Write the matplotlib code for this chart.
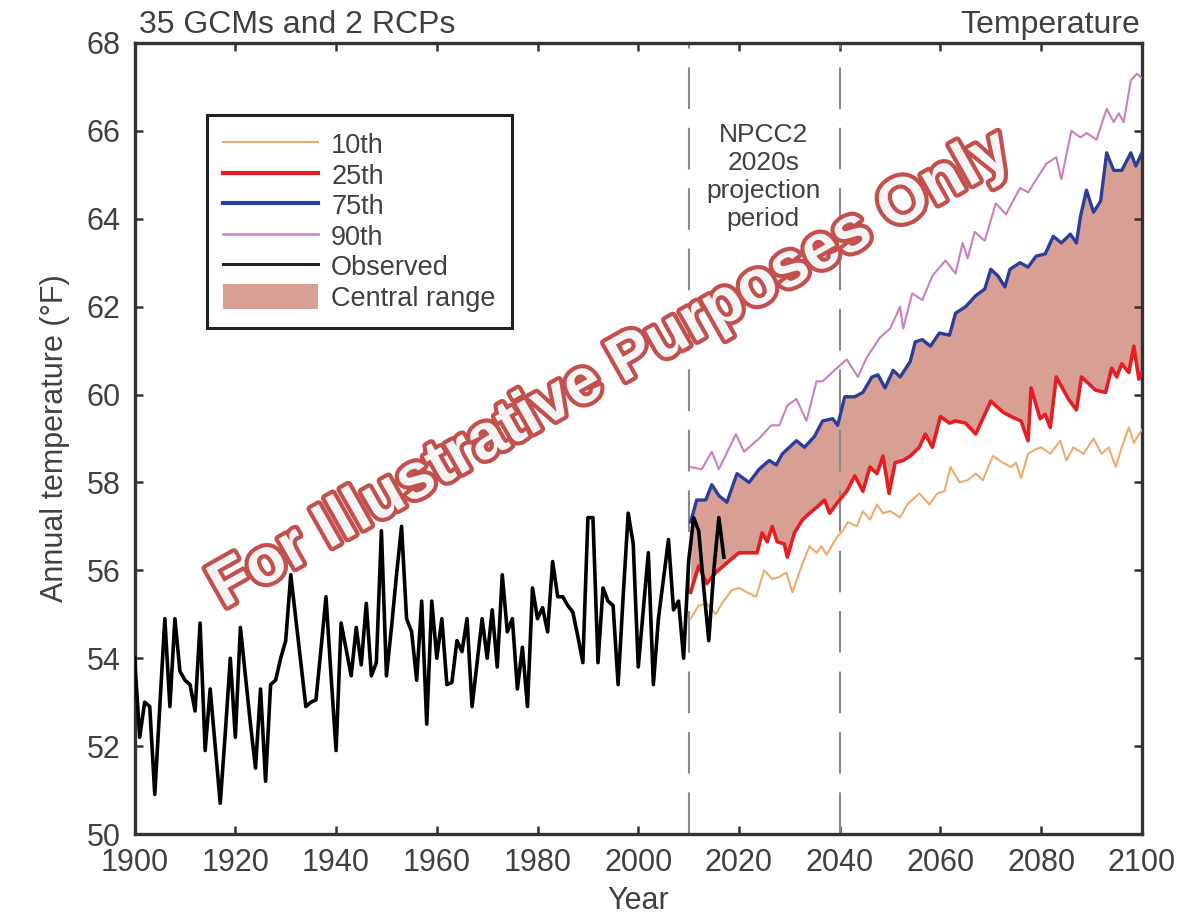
import numpy as np
import matplotlib.pyplot as plt
import matplotlib.patheffects as pe
from matplotlib.patches import Patch
from matplotlib.lines import Line2D

plt.rcParams['font.family'] = ['Liberation Sans', 'DejaVu Sans']

# observed annual temperature, 1900-2017 (deg F)
obs_years = list(range(1900, 2018))
obs_temp = [54.0, 52.2, 53.0, 52.9, 50.9, 52.9, 54.9, 52.9, 54.9, 53.7,
            53.5, 53.4, 52.8, 54.8, 51.9, 53.3, 52.0, 50.7, 52.3, 54.0,
            52.2, 54.7, 53.6, 52.5, 51.5, 53.3, 51.2, 53.4, 53.5, 54.0,
            54.4, 55.9, 54.9, 53.9, 52.9, 53.0, 53.05, 54.2, 55.4, 53.6,
            51.9, 54.8, 54.2, 53.6, 54.7, 53.85, 55.25, 53.6, 53.9, 56.9,
            53.6, 54.7, 55.9, 57.0, 54.9, 54.6, 53.5, 55.3, 52.5, 55.3,
            54.0, 54.9, 53.4, 53.45, 54.4, 54.15, 54.9, 52.9, 53.9, 54.9,
            54.0, 55.1, 53.8, 55.9, 54.6, 54.9, 53.3, 54.25, 52.9, 55.6,
            54.9, 55.15, 54.6, 56.2, 55.4, 55.4, 55.2, 55.05, 54.5, 53.9,
            57.2, 57.2, 53.9, 55.6, 55.3, 55.2, 53.4, 55.4, 57.3, 56.6,
            53.8, 55.1, 56.4, 53.4, 54.9, 55.8, 56.7, 55.1, 55.3, 54.0,
            56.2, 57.2, 56.9, 55.6, 54.4, 56.0, 57.2, 56.3]

# model percentiles
p10_years = [2010.4, 2012, 2013.6, 2015.4, 2016.6, 2018.6, 2020, 2021.6, 2023.4, 2025,
             2026.6, 2028, 2029.4, 2030.6, 2032.6, 2034, 2035.4, 2036.4, 2037.4, 2039.4,
             2040.6, 2041.6, 2043.4, 2044.6, 2046, 2047.4, 2048.6, 2050, 2052, 2053.4,
             2055.8, 2057.8, 2059.4, 2060.8, 2062, 2063.8, 2065.4, 2067, 2068.4, 2070.4,
             2072.4, 2074, 2075, 2076, 2077.4, 2078.8, 2080, 2081.8, 2083.8, 2085,
             2086.4, 2088.4, 2090.4, 2092, 2093.4, 2094.8, 2096, 2097.4, 2098.4, 2100]
p10_temp = [54.9, 55.2, 55.25, 55.0, 55.25, 55.55, 55.6, 55.5, 55.4, 56.0,
            55.8, 55.85, 55.95, 55.5, 56.15, 56.55, 56.4, 56.55, 56.35, 56.75,
            56.9, 57.1, 57.0, 57.35, 57.15, 57.5, 57.3, 57.35, 57.2, 57.5,
            57.75, 57.5, 57.75, 57.8, 58.35, 58.0, 58.05, 58.2, 58.05, 58.6,
            58.45, 58.35, 58.45, 58.1, 58.65, 58.75, 58.8, 58.65, 58.95, 58.5,
            58.8, 58.65, 59.0, 58.65, 58.8, 58.35, 58.8, 59.25, 58.9, 59.2]

p25_years = [2010.4, 2012, 2013.6, 2015.4, 2017.4, 2020, 2022, 2023.6, 2024.6, 2025.6,
             2026.6, 2027.6, 2029, 2029.6, 2031, 2032.6, 2034, 2035.6, 2037, 2038,
             2039.6, 2041.4, 2043, 2044.6, 2046, 2047.4, 2048.6, 2049.8, 2051, 2052.6,
             2054, 2055.8, 2057, 2058.4, 2060, 2061.8, 2063, 2065, 2067, 2070,
             2072.4, 2074, 2076, 2077.4, 2078, 2079.8, 2080.8, 2081.8, 2083, 2085.4,
             2087, 2088, 2090.8, 2092.8, 2094, 2095, 2096, 2097.4, 2098.4, 2099.4, 2100]
p25_temp = [55.5, 56.1, 55.7, 55.95, 56.15, 56.4, 56.4, 56.4, 56.85, 56.65,
            57.0, 56.65, 56.6, 56.3, 56.85, 57.15, 57.3, 57.45, 57.6, 57.3,
            57.55, 57.8, 58.15, 57.8, 58.35, 58.2, 58.6, 57.75, 58.45, 58.5,
            58.6, 58.8, 59.1, 58.8, 59.5, 59.35, 59.4, 59.35, 59.1, 59.85,
            59.6, 59.5, 59.4, 58.95, 60.15, 59.45, 59.55, 59.25, 60.4, 59.9,
            59.65, 60.4, 60.1, 60.05, 60.6, 60.4, 60.7, 60.5, 61.1, 60.35, 60.5]

p75_years = [2010.4, 2011.6, 2013.4, 2014.6, 2016, 2017.6, 2019.6, 2022, 2024, 2026,
             2027.4, 2028.6, 2030, 2031.4, 2033, 2035, 2036.6, 2038.6, 2039.6, 2041,
             2043, 2044.6, 2046.4, 2047.6, 2049, 2050.6, 2052, 2054, 2055, 2056.4,
             2058, 2059.8, 2061.8, 2063, 2065, 2067, 2068.8, 2070, 2071.4, 2072.8,
             2073.8, 2075.8, 2077.4, 2079, 2080.8, 2082.4, 2084, 2085.8, 2087, 2087.8,
             2089, 2090.4, 2091.8, 2093, 2094.4, 2096, 2097.8, 2098.8, 2100]
p75_temp = [57.1, 57.6, 57.6, 57.95, 57.7, 57.55, 58.2, 58.0, 58.3, 58.5,
            58.4, 58.65, 58.8, 58.95, 58.8, 59.05, 59.4, 59.45, 59.3, 59.95,
            59.95, 60.05, 60.4, 60.45, 60.15, 60.55, 60.4, 60.75, 61.2, 61.25,
            61.1, 61.4, 61.35, 61.85, 62.0, 62.25, 62.4, 62.85, 62.7, 62.45,
            62.85, 63.0, 62.9, 63.15, 63.2, 63.6, 63.45, 63.65, 63.45, 64.05,
            64.65, 64.15, 64.4, 65.5, 65.1, 65.1, 65.5, 65.2, 65.5]

p90_years = [2010.4, 2012.6, 2014.6, 2016, 2019.4, 2021, 2024, 2026.4, 2028, 2029.6,
             2031.4, 2033.4, 2035.4, 2036.6, 2039.4, 2041.4, 2043.6, 2045.4, 2048, 2050,
             2052, 2052.6, 2054.4, 2056.4, 2058.4, 2061, 2063, 2064.4, 2065.4, 2066.8,
             2068.8, 2071, 2073, 2075.8, 2077.4, 2081, 2083, 2084, 2086, 2087.8,
             2089, 2091, 2093, 2094.4, 2095.4, 2096.4, 2097.8, 2099, 2100]
p90_temp = [58.35, 58.3, 58.7, 58.3, 59.1, 58.7, 59.0, 59.3, 59.3, 59.75,
            59.9, 59.4, 60.3, 60.3, 60.6, 60.8, 60.4, 60.85, 61.3, 61.5,
            62.0, 61.5, 62.3, 62.15, 62.7, 63.05, 62.75, 63.45, 63.1, 63.7,
            63.5, 64.35, 64.1, 64.7, 64.6, 65.25, 65.4, 64.9, 66.0, 65.85,
            65.95, 65.8, 66.5, 66.2, 66.4, 66.2, 67.15, 67.3, 67.2]

x_ticks = list(range(1900, 2101, 20))
y_ticks = list(range(50, 69, 2))
legend_labels = ['10th', '25th', '75th', '90th', 'Observed', 'Central range']

c10, c25, c75, c90 = '#f0aa6c', '#e41e22', '#2b3f98', '#cc7fbe'
cfill = '#d8a094'
txt = '#404040'

fig = plt.figure(figsize=(12.02, 9.14), dpi=100)
ax = fig.add_axes([0.112, 0.0875, 0.838, 0.8655])

# central range: shade between 25th and 75th on a common year grid
grid = np.union1d(p25_years, p75_years)
lo = np.interp(grid, p25_years, p25_temp)
hi = np.interp(grid, p75_years, p75_temp)
ax.fill_between(grid, lo, hi, color=cfill, lw=0, zorder=1)

ax.plot(p10_years, p10_temp, color=c10, lw=1.5, zorder=3)
ax.plot(p90_years, p90_temp, color=c90, lw=1.5, zorder=3)
ax.plot(p75_years, p75_temp, color=c75, lw=2.4, zorder=3)
ax.plot(p25_years, p25_temp, color=c25, lw=2.6, zorder=3)
ax.plot(obs_years, obs_temp, color='black', lw=2.6, zorder=4)

for yr in (2010, 2040):
    ax.axvline(yr, color='#8a8a8a', lw=1.5, dashes=(20, 9), zorder=2)

ax.text(2024.8, 64.95, 'NPCC2\n2020s\nprojection\nperiod', ha='center', va='center',
        fontsize=19, color=txt, linespacing=1.2)

ax.set_xlim(1900, 2100)
ax.set_ylim(50, 68)
ax.set_xticks(x_ticks)
ax.set_yticks(y_ticks)
ax.tick_params(direction='in', length=6, width=1.8, top=True, right=True,
               labelsize=22, colors='#333333', labelcolor=txt, pad=10)
for s in ax.spines.values():
    s.set_linewidth(2.4)
    s.set_color('#333333')

ax.set_ylabel('Annual temperature (°F)', fontsize=22, color=txt, labelpad=12)
ax.set_xlabel('Year', fontsize=22, color=txt, labelpad=6)

ax.text(0.004, 1.004, '35 GCMs and 2 RCPs', transform=ax.transAxes, fontsize=23,
        color=txt, ha='left', va='bottom')
ax.text(0.998, 1.004, 'Temperature', transform=ax.transAxes, fontsize=23,
        color=txt, ha='right', va='bottom')

handles = [Line2D([], [], color=c10, lw=1.5),
           Line2D([], [], color=c25, lw=3.0),
           Line2D([], [], color=c75, lw=3.0),
           Line2D([], [], color=c90, lw=1.8),
           Line2D([], [], color='#222222', lw=2.2),
           Patch(facecolor=cfill, edgecolor='none')]
leg = ax.legend(handles, legend_labels, loc='upper left', bbox_to_anchor=(0.0715, 0.909),
                borderaxespad=0, fontsize=19.5, handlelength=3.5, handleheight=1.05,
                labelspacing=0.1, handletextpad=0.5, borderpad=0.6, fancybox=False,
                framealpha=1, edgecolor='#222222')
leg.get_frame().set_linewidth(2.2)
for t in leg.get_texts():
    t.set_color(txt)

wm = fig.text(0.508, 0.595, 'For Illustrative Purposes Only', rotation=29.5, fontsize=46,
              fontweight='bold', color='#f4f4f4', ha='center', va='center', zorder=10)
wm.set_path_effects([pe.withStroke(linewidth=6, foreground='#c4504e')])

fig.savefig('out.png', dpi=100)
